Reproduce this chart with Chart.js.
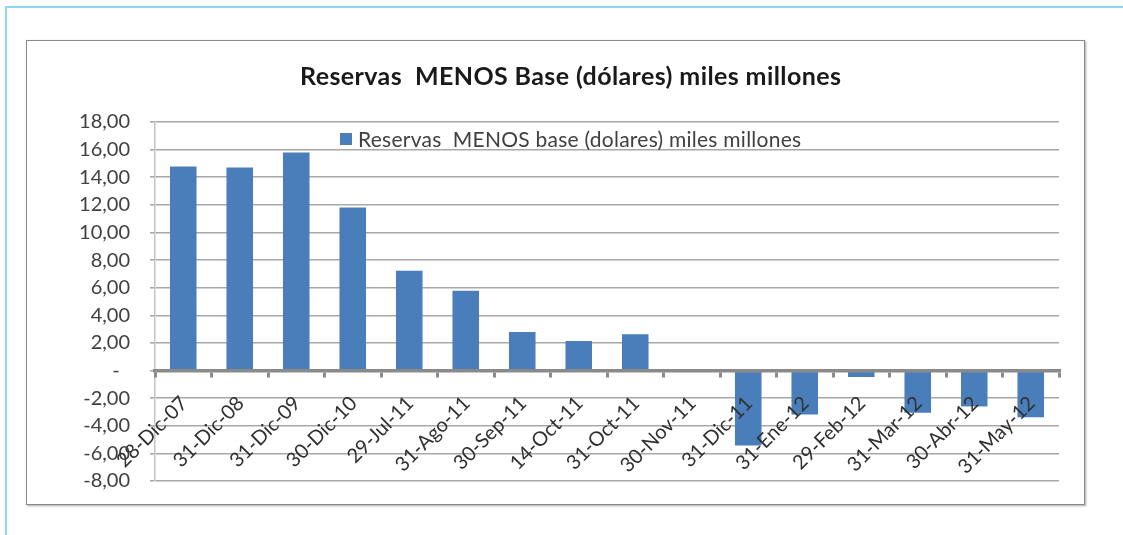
<!DOCTYPE html>
<html>
<head>
<meta charset="utf-8">
<script src="https://cdn.jsdelivr.net/npm/chart.js@4/dist/chart.umd.min.js"></script>
<style>
  html, body { margin: 0; padding: 0; background: #fff; width: 1123px; height: 535px; overflow: hidden; }
  body { position: relative; font-family: Lato, "Open Sans", sans-serif; }
  #frame { position: absolute; left: 5px; top: 6px; width: 1130px; height: 540px;
           border-top: 2px solid #8ed6f2; border-left: 2px solid #8ed6f2; }
  #box { position: absolute; left: 26px; top: 40px; width: 1057px; height: 463px;
         border: 1px solid #8a8a8a; box-shadow: 1px 1px 2px rgba(0,0,0,0.35); background: #fff; }
  #chart { position: absolute; left: 0; top: 0; }
  #title { position: absolute; left: 300px; top: 59px; font-weight: bold; font-size: 25px;
           letter-spacing: 0.4px; color: #1a1a1a; white-space: pre; line-height: 32px; }
  #legend { position: absolute; left: 340px; top: 127px; font-size: 21px; letter-spacing: 0.25px;
            color: #404040; white-space: pre; line-height: 24px; display: flex; align-items: center; }
  #legend .sw { width: 12px; height: 12px; background: #4a7ebb; margin-right: 6px; }
</style>
</head>
<body>
<div id="frame"></div>
<div id="box"><canvas id="chart" width="1057" height="463"></canvas></div>
<div id="title"></div>
<div id="legend"><span class="sw"></span><span id="legendText"></span></div>
<script>
// Fechas de corte
const categories = ['28-Dic-07', '31-Dic-08', '31-Dic-09', '30-Dic-10', '29-Jul-11', '31-Ago-11',
                    '30-Sep-11', '14-Oct-11', '31-Oct-11', '30-Nov-11', '31-Dic-11', '31-Ene-12',
                    '29-Feb-12', '31-Mar-12', '30-Abr-12', '31-May-12'];
// Reservas menos base monetaria, miles de millones de dólares
const values = [14.78, 14.71, 15.80, 11.80, 7.23, 5.77, 2.80, 2.14, 2.63, 0.00,
                -5.43, -3.18, -0.47, -3.06, -2.60, -3.38];
const seriesName = 'Reservas  MENOS base (dolares) miles millones';
const chartTitle = 'Reservas  MENOS Base (dólares) miles millones';
const yMin = -8, yMax = 18, yStep = 2;

document.getElementById('title').textContent = chartTitle;
document.getElementById('legendText').textContent = seriesName;

// Formato contable: coma decimal y guion para el cero
function fmtTick(v) {
  if (Math.abs(v) < 1e-9) return '-\u00a0\u00a0';
  return v.toFixed(2).replace('.', ',');
}

const FONT = 'Lato, "Open Sans", sans-serif';

new Chart(document.getElementById('chart'), {
  type: 'bar',
  data: {
    labels: categories,
    datasets: [{
      label: seriesName,
      data: values,
      backgroundColor: '#4a7ebb',
      borderWidth: 0,
      barPercentage: 0.47,
      categoryPercentage: 1.0
    }]
  },
  options: {
    responsive: false,
    animation: false,
    layout: { padding: { left: 0, right: 25, top: 81, bottom: 23 } },
    plugins: { legend: { display: false }, title: { display: false }, tooltip: { enabled: false } },
    scales: {
      y: {
        min: yMin, max: yMax,
        ticks: { stepSize: yStep, callback: fmtTick, color: '#404040', padding: 20,
                 font: { family: FONT, size: 20 } },
        grid: { color: '#a8a8a8', lineWidth: 1.6, tickLength: 5 },
        border: { display: true, color: '#c4c4c4', width: 1.5 },
        afterFit: s => { s.width = 128; s.paddingTop = 0; s.paddingBottom = 0; }
      },
      x: {
        position: { y: 0 },
        ticks: { maxRotation: 45, minRotation: 45, autoSkip: false, color: '#303030', padding: 16,
                 labelOffset: 1, z: 1, font: { family: FONT, size: 20 } },
        grid: { display: true, drawOnChartArea: false, drawTicks: true, tickLength: 5,
                color: '#8a8a8a', lineWidth: 3, offset: true, z: 1 },
        border: { display: true, color: '#8a8a8a', width: 3.5, z: 1 },
        afterFit: s => { s.height = 0; }
      }
    }
  }
});
</script>
</body>
</html>
